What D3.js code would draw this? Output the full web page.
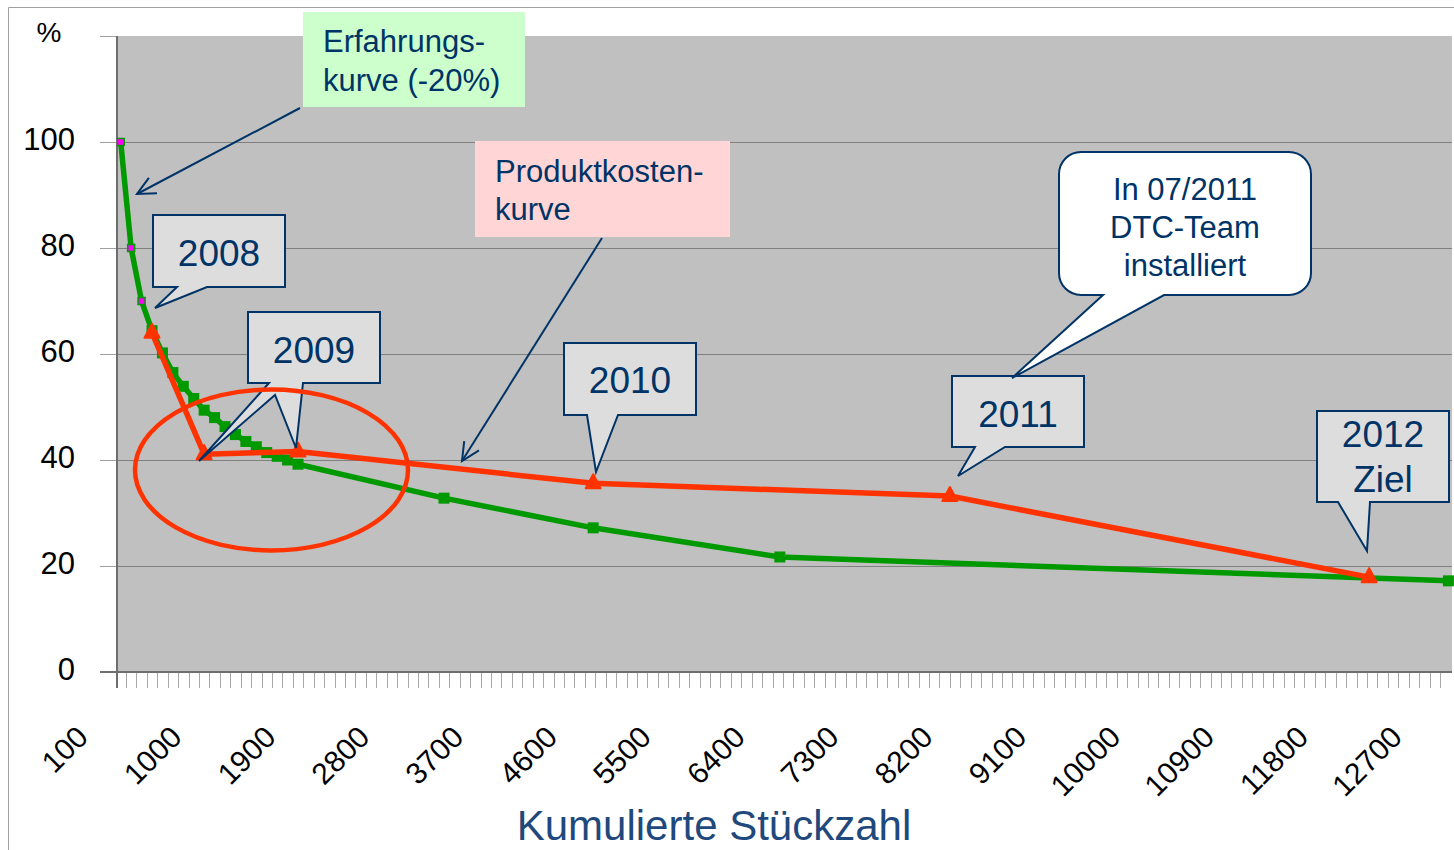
<!DOCTYPE html>
<html>
<head>
<meta charset="utf-8">
<script src="https://cdn.jsdelivr.net/npm/d3@7"></script>
<style>
  body { margin: 0; background: #fff; }
  svg { display: block; font-family: "Liberation Sans", Arial, sans-serif; }
</style>
</head>
<body>
<svg id="chart" width="1454" height="850"></svg>
<script>
// Erfahrungskurve (green) - cumulative quantity / cost in %
const expX = [100, 200, 300, 400, 500, 600, 700, 800, 900, 1000, 1100, 1200,
  1300, 1400, 1500, 1600, 1700, 1800, 3200, 4630, 6420, 12830];
const expY = [100, 80, 70, 64.4, 60.2, 56.5, 53.9, 51.6, 49.4, 48, 46.3, 44.8,
  43.5, 42.5, 41.4, 40.7, 40, 39.2, 32.8, 27.2, 21.7, 17.2];

// Produktkostenkurve (red)
const costX = [400, 900, 1800, 4630, 8050, 12070];
const costY = [64, 41.1, 41.6, 35.6, 33.2, 17.9];

const yTicks = [0, 20, 40, 60, 80, 100, 120];
const yLabels = [0, 20, 40, 60, 80, 100];
const xLabels = [100, 1000, 1900, 2800, 3700, 4600, 5500, 6400, 7300, 8200,
  9100, 10000, 10900, 11800, 12700];

const navy = "#003366";
const green = "#009900";
const red = "#ff3300";

const svg = d3.select("#chart");

const plot = { left: 117, right: 1452, top: 36, bottom: 672 };

const x = d3.scaleLinear().domain([50, 12850]).range([115.5, 1450.5]);
const y = d3.scaleLinear().domain([0, 120]).range([plot.bottom, plot.top]);

// outer frame
svg.append("path")
  .attr("d", "M8.5,850 V7.5 H1454")
  .attr("fill", "none")
  .attr("stroke", "#a0a0a0")
  .attr("stroke-width", 1);

// plot area
svg.append("rect")
  .attr("x", plot.left).attr("y", plot.top)
  .attr("width", plot.right - plot.left).attr("height", plot.bottom - plot.top)
  .attr("fill", "#c0c0c0");

// gridlines
svg.append("g")
  .selectAll("line")
  .data(yTicks.filter(d => d > 0 && d < 120))
  .join("line")
  .attr("x1", plot.left).attr("x2", plot.right)
  .attr("y1", d => Math.round(y(d)) + 0.5).attr("y2", d => Math.round(y(d)) + 0.5)
  .attr("stroke", "#808080");

// y tick marks outside
svg.append("g")
  .selectAll("line")
  .data(yTicks)
  .join("line")
  .attr("x1", 100).attr("x2", plot.left)
  .attr("y1", d => Math.round(y(d)) + 0.5).attr("y2", d => Math.round(y(d)) + 0.5)
  .attr("stroke", "#a0a0a0");

// x tick marks between categories
const xTicks = d3.range(150, 12850, 100);
svg.append("g")
  .selectAll("line")
  .data(xTicks)
  .join("line")
  .attr("x1", d => Math.round(x(d)) + 0.5).attr("x2", d => Math.round(x(d)) + 0.5)
  .attr("y1", plot.bottom).attr("y2", plot.bottom + 16)
  .attr("stroke", "#a8a8a8");

// axis lines
svg.append("line")
  .attr("x1", plot.left).attr("x2", plot.left)
  .attr("y1", plot.top).attr("y2", plot.bottom + 16)
  .attr("stroke", "#6e6e6e").attr("stroke-width", 2);
svg.append("line")
  .attr("x1", 100).attr("x2", plot.right)
  .attr("y1", plot.bottom).attr("y2", plot.bottom)
  .attr("stroke", "#6e6e6e").attr("stroke-width", 2);

// y labels
svg.append("g")
  .selectAll("text")
  .data(yLabels)
  .join("text")
  .attr("x", 75)
  .attr("y", d => y(d) + 8)
  .attr("text-anchor", "end")
  .attr("font-size", 31)
  .attr("fill", "#000")
  .text(d => d);

svg.append("text")
  .attr("x", 49).attr("y", 42)
  .attr("text-anchor", "middle")
  .attr("font-size", 28)
  .text("%");

// x labels
svg.append("g")
  .selectAll("text")
  .data(xLabels)
  .join("text")
  .attr("transform", d => `translate(${x(d) - 31},739) rotate(-45)`)
  .attr("text-anchor", "end")
  .attr("font-size", 30)
  .attr("fill", "#000")
  .text(d => d);

svg.append("text")
  .attr("x", 714).attr("y", 840)
  .attr("text-anchor", "middle")
  .attr("font-size", 42)
  .attr("fill", "#1f497d")
  .text("Kumulierte Stückzahl");

// lines
const line = d3.line().x(d => x(d[0])).y(d => y(d[1]));
const expData = expX.map((v, i) => [v, expY[i]]);
const costData = costX.map((v, i) => [v, costY[i]]);

svg.append("clipPath").attr("id", "plotclip")
  .append("rect")
  .attr("x", plot.left).attr("y", plot.top)
  .attr("width", plot.right - plot.left + 4).attr("height", plot.bottom - plot.top);

const series = svg.append("g").attr("clip-path", "url(#plotclip)");

series.append("path")
  .datum(expData)
  .attr("d", line)
  .attr("fill", "none")
  .attr("stroke", green)
  .attr("stroke-width", 5.5)
  .attr("stroke-linejoin", "round");

series.append("g")
  .selectAll("rect")
  .data(expData)
  .join("rect")
  .attr("x", (d, i) => x(d[0]) - (i < 3 ? 3.5 : 5.5))
  .attr("y", (d, i) => y(d[1]) - (i < 3 ? 3.5 : 5.5))
  .attr("width", (d, i) => i < 3 ? 7 : 11)
  .attr("height", (d, i) => i < 3 ? 7 : 11)
  .attr("fill", (d, i) => i < 3 ? "#ff00ff" : green)
  .attr("stroke", green)
  .attr("stroke-width", (d, i) => i < 3 ? 1.5 : 0);

series.append("path")
  .datum(costData)
  .attr("d", line)
  .attr("fill", "none")
  .attr("stroke", red)
  .attr("stroke-width", 5.5)
  .attr("stroke-linejoin", "round");

series.append("g")
  .selectAll("path")
  .data(costData)
  .join("path")
  .attr("transform", d => `translate(${x(d[0])},${y(d[1])})`)
  .attr("d", "M0,-9 L7.5,5 L-7.5,5 Z")
  .attr("fill", red)
  .attr("stroke", red)
  .attr("stroke-width", 2)
  .attr("stroke-linejoin", "round");

// annotation boxes
function labelBox(x0, y0, x1, y1, fill, lines, tx, ty, lh) {
  svg.append("rect")
    .attr("x", x0).attr("y", y0)
    .attr("width", x1 - x0).attr("height", y1 - y0)
    .attr("fill", fill);
  const t = svg.append("text")
    .attr("font-size", 31)
    .attr("fill", navy);
  lines.forEach((s, i) => {
    t.append("tspan").attr("x", tx).attr("y", ty + i * lh).text(s);
  });
}

function arrow(x0, y0, x1, y1) {
  const a = Math.atan2(y0 - y1, x0 - x1);
  const len = 20, spread = 0.45;
  const g = svg.append("g")
    .attr("fill", "none").attr("stroke", navy).attr("stroke-width", 2);
  g.append("line").attr("x1", x0).attr("y1", y0).attr("x2", x1).attr("y2", y1);
  g.append("path").attr("d",
    `M${x1 + len * Math.cos(a + spread)},${y1 + len * Math.sin(a + spread)} L${x1},${y1} L${x1 + len * Math.cos(a - spread)},${y1 + len * Math.sin(a - spread)}`);
}

// callout with pointer from bottom edge
function callout(pathD, fill, lines, cx, by, lh, fs) {
  svg.append("path")
    .attr("d", pathD)
    .attr("fill", fill)
    .attr("stroke", navy)
    .attr("stroke-width", 2)
    .attr("stroke-linejoin", "miter");
  const t = svg.append("text")
    .attr("font-size", fs)
    .attr("fill", navy)
    .attr("text-anchor", "middle");
  lines.forEach((s, i) => {
    t.append("tspan").attr("x", cx).attr("y", by + i * lh).text(s);
  });
}

function boxPath(x0, y0, x1, y1, xa, xb, tx, ty) {
  return `M${x0},${y0} H${x1} V${y1} H${xb} L${tx},${ty} L${xa},${y1} H${x0} Z`;
}

function roundPath(x0, y0, x1, y1, r, xa, xb, tx, ty) {
  return `M${x0 + r},${y0} H${x1 - r} A${r},${r} 0 0 1 ${x1},${y0 + r} V${y1 - r} A${r},${r} 0 0 1 ${x1 - r},${y1} H${xb} L${tx},${ty} L${xa},${y1} H${x0 + r} A${r},${r} 0 0 1 ${x0},${y1 - r} V${y0 + r} A${r},${r} 0 0 1 ${x0 + r},${y0} Z`;
}

const boxFill = "#dddddd";

callout(boxPath(153, 215, 285, 287, 177, 207, 155, 308), boxFill, ["2008"], 219, 266, 0, 37);
callout(`M248,312 H380 V383 H303 L296,448 L275,395 L199,461 L269,383 H248 Z`,
  boxFill, ["2009"], 314, 363, 0, 37);
callout(boxPath(564, 343, 696, 415, 587, 618, 596, 472), boxFill, ["2010"], 630, 393, 0, 37);
callout(boxPath(952, 376, 1084, 447, 975, 1005, 958, 476), boxFill, ["2011"], 1018, 427, 0, 37);
callout(boxPath(1317, 411, 1449, 502, 1338, 1370, 1367, 551), boxFill, ["2012", "Ziel"], 1383, 447, 45, 37);
callout(roundPath(1059, 152, 1311, 295, 22, 1103, 1164, 1012, 378), "#ffffff",
  ["In 07/2011", "DTC-Team", "installiert"], 1185, 200, 38, 31);

labelBox(303, 12, 525, 107, "#ccffcc", ["Erfahrungs-", "kurve (-20%)"], 323, 52, 39);
arrow(300, 108, 137, 194);

labelBox(475, 141, 730, 237, "#ffd5d5", ["Produktkosten-", "kurve"], 495, 182, 38);
arrow(602, 238, 462, 461);

// highlight ellipse
svg.append("ellipse")
  .attr("cx", 271.5).attr("cy", 470)
  .attr("rx", 136.5).attr("ry", 80.5)
  .attr("fill", "none")
  .attr("stroke", red)
  .attr("stroke-width", 4.5);
</script>
</body>
</html>
